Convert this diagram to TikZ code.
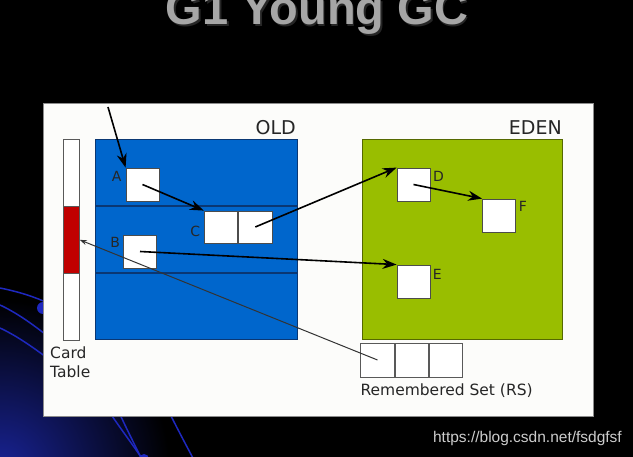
\documentclass[tikz,border=0pt]{standalone}
\usepackage{fontspec}
\setmainfont{DejaVu Sans}
\newfontfamily\titlefont{Liberation Sans}
\usetikzlibrary{arrows.meta,calc}
\definecolor{oldblue}{RGB}{0,102,204}
\definecolor{oldline}{RGB}{10,55,115}
\definecolor{edengreen}{RGB}{153,190,0}
\definecolor{edenline}{RGB}{85,105,0}
\definecolor{cardred}{RGB}{192,0,0}
\definecolor{panelwhite}{RGB}{252,252,250}
\definecolor{glowblue}{RGB}{25,35,150}
\definecolor{swirl}{RGB}{30,40,190}
\tikzset{
	obj/.style = {draw = black!70, fill = white, thick, minimum width = 33pt, minimum height = 33pt, inner sep = 0pt},
	cell/.style = {draw = black!65, fill = white, thick, inner sep = 0pt},
	ref/.style = {-{Stealth[length = 14pt, width = 10pt]}, line width = 1.6pt},
	lbl/.style = {font = \fontsize{14}{14}\selectfont, text = black!85, inner sep = 0pt},
	tag/.style = {font = \fontsize{15.5}{19}\selectfont, text = black!85, inner sep = 0pt, align = left}
}
\begin{document}
\begin{tikzpicture}[x = 1pt, y = -1pt]
	\useasboundingbox (0, 0) rectangle (633, 457);
	\fill[black] (0, 0) rectangle (633, 457);
	\begin{scope}
		\clip (0, 0) rectangle (633, 457);
		\shade[inner color = glowblue, outer color = black] (0, 470) circle (170);
		\draw[swirl, line width = 1.5pt] (0, 288) .. controls (20, 292) and (35, 297) .. (50, 304);
		\draw[swirl, line width = 1.5pt] (0, 305) .. controls (15, 312) and (30, 322) .. (50, 338);
		\draw[swirl, line width = 1.5pt] (0, 328) .. controls (15, 335) and (30, 345) .. (50, 360);
		\fill[swirl] (43, 308) circle (6);
		\draw[swirl, line width = 1.5pt] (108, 410) .. controls (120, 428) and (133, 445) .. (143, 460);
		\draw[swirl, line width = 1.5pt] (118, 410) .. controls (126, 428) and (135, 445) .. (142, 460);
		\draw[swirl, line width = 1.5pt] (168, 410) .. controls (177, 428) and (186, 445) .. (194, 460);
		\fill[swirl] (144, 459) circle (5);
	\end{scope}

	\node[font = \titlefont\bfseries\fontsize{47}{47}\selectfont, text = black!70!gray, anchor = base] (titleshadow) at (318.5, 26.5) {G1 Young GC};
	\node[font = \titlefont\bfseries\fontsize{47}{47}\selectfont, text = gray!70, anchor = base] (title) at (317, 25) {G1 Young GC};

	\draw[fill = panelwhite, draw = black!45, line width = 1pt] (43, 104) rectangle (593, 417);

	\node[cell, anchor = north west, minimum width = 16pt, minimum height = 201pt] (card) at (63, 139) {};
	\node[cell, fill = cardred, anchor = north west, minimum width = 16pt, minimum height = 67pt] (dirty) at (63, 206) {};

	\node[draw = oldline, fill = oldblue, anchor = north west, minimum width = 202pt, minimum height = 200pt] (old) at (95, 139) {};
	\draw[oldline, line width = 1.2pt] (95, 206) -- (297, 206);
	\draw[oldline, line width = 1.2pt] (95, 273) -- (297, 273);
	\node[draw = edenline, fill = edengreen, anchor = north west, minimum width = 200pt, minimum height = 200pt] (eden) at (362, 139) {};

	\node[tag, font = \fontsize{19}{19}\selectfont, anchor = base east] (oldname) at (296, 135) {OLD};
	\node[tag, font = \fontsize{19}{19}\selectfont, anchor = base east] (edenname) at (562, 135) {EDEN};

	\node[obj] (A) at (142.5, 184.5) {};
	\node[obj] (B) at (140, 251.5) {};
	\node[obj, minimum width = 33.5pt, minimum height = 32pt] (C1) at (221, 227) {};
	\node[obj, minimum width = 33.5pt, minimum height = 32pt, anchor = west] (C2) at (C1.east) {};
	\node[obj] (D) at (413.5, 184.5) {};
	\node[obj] (E) at (413.5, 281.5) {};
	\node[obj] (F) at (499, 215.5) {};

	\node[lbl] (labA) at ($(A.north west) + (-9, 9)$) {A};
	\node[lbl] (labB) at ($(B.north west) + (-8, 8)$) {B};
	\node[lbl] (labC) at ($(C1.north west) + (-8.5, 21)$) {C};
	\node[lbl] (labD) at ($(D.north east) + (8, 9)$) {D};
	\node[lbl] (labE) at ($(E.north east) + (7, 10)$) {E};
	\node[lbl] (labF) at ($(F.north east) + (7, 8)$) {F};

	\node[cell, minimum width = 33.5pt, minimum height = 34pt] (rs1) at (377.5, 360) {};
	\node[cell, minimum width = 33.5pt, minimum height = 34pt, anchor = west] (rs2) at (rs1.east) {};
	\node[cell, minimum width = 33.5pt, minimum height = 34pt, anchor = west] (rs3) at (rs2.east) {};

	\coordinate (root) at (108, 107);
	\draw[ref] (root) -- (A.north west);
	\draw[ref] (A.center) -- (C1.north west);
	\draw[ref] (C2.center) -- (D.north west);
	\draw[ref] (B.center) -- (E.north west);
	\draw[ref] (D.center) -- (F.north west);
	\draw[black!80, line width = 1pt, -{Stealth[length = 7pt, width = 5pt]}] (rs1.center) -- (dirty.east);

	\node[tag, anchor = base west] (cardname) at (50, 378) {Card\\Table};
	\node[tag, anchor = base west] (rsname) at ($(rs1.south west) + (0, 18)$) {Remembered Set (RS)};
	\node[font = \titlefont\fontsize{15.5}{15.5}\selectfont, text = black!20, anchor = base east, inner sep = 0pt] (url) at (622, 443) {https://blog.csdn.net/fsdgfsf};
\end{tikzpicture}
\end{document}
